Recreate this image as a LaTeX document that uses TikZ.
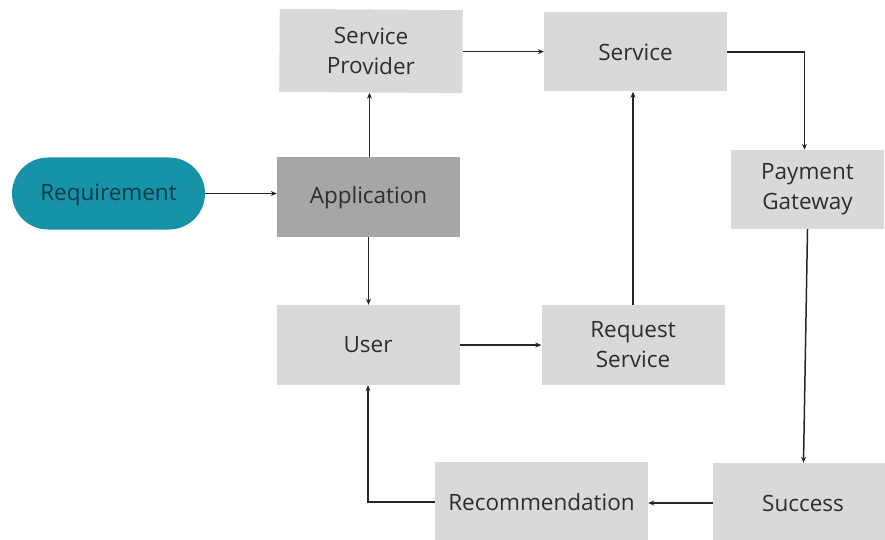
\documentclass[tikz,border=0pt]{standalone}
\usepackage{fontspec}
\setmainfont{Open Sans}
\usetikzlibrary{arrows.meta}
\definecolor{boxgray}{HTML}{D9D9D9}
\definecolor{appgray}{HTML}{A6A6A6}
\definecolor{teal}{HTML}{1693A7}
\definecolor{tealtext}{HTML}{0B3B47}
\definecolor{ink}{HTML}{2E2E2E}
\tikzset{
  label font/.style={font=\fontsize{22.5}{30}\selectfont},
  box/.style={fill=boxgray, draw=none, minimum width=183pt, minimum height=80pt,
    align=center, text=ink, label font, inner sep=0pt},
  arr/.style={draw=black!85, line width=1.5pt, -{Stealth[length=6pt,width=5pt]}}
}
\begin{document}
\begin{tikzpicture}[x=1pt, y=-1pt]
\useasboundingbox (0,0) rectangle (885,540);
\clip (0,0) rectangle (885,540);
\node[fill=teal, minimum width=193pt, minimum height=72pt, rounded corners=36pt,
  text=tealtext, label font, inner sep=0pt, text depth=0pt, text height=14pt] (req) at (108.5,193.5) {Requirement};
\node[box, fill=appgray, text depth=0pt, text height=12pt] (app) at (368.5,197) {Application};
\node[box, minimum height=83pt, rotate=-0.4] (sp) at (371,51) {Service\\Provider};
\node[box, minimum height=79pt] (svc) at (635.5,52) {Service};
\node[box, minimum width=153pt, minimum height=79pt] (pg) at (807.5,189.5) {Payment\\Gateway};
\node[box] (user) at (368,345) {User};
\node[box] (rs) at (633,345) {Request\\Service};
\node[box, minimum width=180pt] (succ) at (803,503) {Success};
\node[box, minimum width=213pt] (rec) at (541.5,502) {Recommendation};

\draw[arr] (req.east) -- (app.west |- req.east);
\draw[arr] ([xshift=1pt]app.north) -- ([xshift=1pt]app.north |- sp.south);
\draw[arr] (app.south) -- (app.south |- user.north);
\draw[arr] (sp.east) -- (svc.west |- sp.east);
\draw[arr] (svc.east) -| ([xshift=-3pt]pg.north);
\draw[arr] (pg.south) -- ([xshift=-4pt]pg.south |- succ.north);
\draw[arr] (succ.west) -- (rec.east |- succ.west);
\draw[arr] (rec.west) -| (user.south);
\draw[arr] (user.east) -- (rs.west |- user.east);
\draw[arr] (rs.north) -- (rs.north |- svc.south);
\end{tikzpicture}
\end{document}
